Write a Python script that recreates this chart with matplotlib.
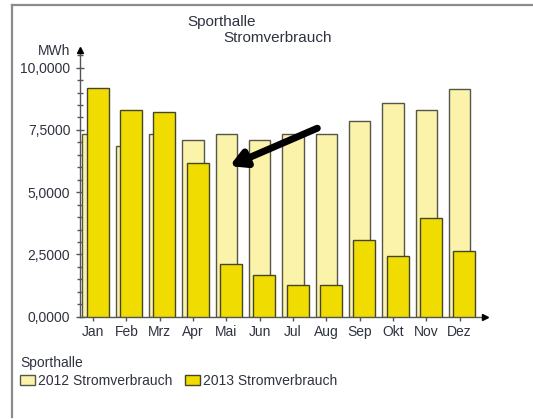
import matplotlib
matplotlib.use("Agg")
import matplotlib.pyplot as plt
from matplotlib.lines import Line2D
from matplotlib.patches import Patch
from matplotlib.ticker import MultipleLocator, FuncFormatter
import numpy as np

months = ["Jan", "Feb", "Mrz", "Apr", "Mai", "Jun", "Jul", "Aug", "Sep", "Okt", "Nov", "Dez"]
verbrauch_2012 = [7.35, 6.87, 7.35, 7.08, 7.34, 7.08, 7.34, 7.34, 7.86, 8.58, 8.29, 9.14]
verbrauch_2013 = [9.17, 8.29, 8.21, 6.18, 2.10, 1.66, 1.28, 1.28, 3.08, 2.45, 3.96, 2.62]
series_labels = ["2012 Stromverbrauch", "2013 Stromverbrauch"]
y_ticks = [0, 2.5, 5.0, 7.5, 10.0]

plt.rcParams['font.family'] = ['Liberation Sans', 'DejaVu Sans']
TXT = '#2f3340'
LIGHT = '#fbf3a9'
DARK = '#f0dc00'
EDGE = '#55554a'

fig = plt.figure(figsize=(5.33, 4.19), dpi=100)
top_px = 50.0
ax = fig.add_axes([80/533, 1-316.7/419, (485-80)/533, (316.7-top_px)/419])

x = np.arange(len(months))
ax.bar(x, verbrauch_2012, width=0.645, color=LIGHT, edgecolor=EDGE, linewidth=1.0, zorder=2)
ax.bar(x + 0.14, verbrauch_2013, width=0.66, color=DARK, edgecolor='#45452a', linewidth=1.0, zorder=3)

ax.set_xlim(-0.39, 11.76)
ax.set_ylim(0, (316.7-top_px)/24.9)
ax.set_xticks(x)
ax.set_xticklabels(months)
ax.set_yticks(y_ticks)
ax.yaxis.set_minor_locator(MultipleLocator(0.5))
ax.yaxis.set_major_formatter(FuncFormatter(lambda v, p: f"{v:.4f}".replace('.', ',')))

for s in ['top', 'right']:
    ax.spines[s].set_visible(False)
for s in ['left', 'bottom']:
    ax.spines[s].set_color('#555555')
    ax.spines[s].set_linewidth(1.0)

ax.tick_params(axis='y', which='major', direction='inout', length=6, width=1, color='#555555',
               labelsize=10, labelcolor=TXT, pad=4)
ax.tick_params(axis='y', which='minor', direction='inout', length=4, width=1, color='#555555')
ax.tick_params(axis='x', which='major', direction='out', length=3, width=1, color='#555555',
               labelsize=10, labelcolor=TXT, pad=3)

# axis arrows
ax.plot(1, 0, marker='>', color='black', markersize=5, transform=ax.transAxes, clip_on=False, zorder=5)
ax.plot(0, 1, marker='^', color='black', markersize=5, transform=ax.transAxes, clip_on=False, zorder=5)

# arrow annotation
ax.annotate('', xy=(4.1, 6.05), xytext=(6.73, 7.57),
            arrowprops=dict(arrowstyle='-|>,head_length=0.9,head_width=0.5', color='black', lw=5,
                            shrinkA=0, shrinkB=0), zorder=6)

fig.text(187/533, 1-22/419, "Sporthalle", fontsize=11, color=TXT, ha='left', va='center')
fig.text(223/533, 1-38/419, "Stromverbrauch", fontsize=11, color=TXT, ha='left', va='center')
fig.text(70/533, 1-51/419, "MWh", fontsize=10, color=TXT, ha='right', va='center')

handles = [Patch(facecolor=LIGHT, edgecolor=EDGE, linewidth=1.0),
           Patch(facecolor=DARK, edgecolor='#45452a', linewidth=1.0)]
leg = fig.legend(handles, series_labels, loc='upper left', bbox_to_anchor=(20/533, 1-356/419),
                 ncol=2, frameon=False, fontsize=10, title="Sporthalle", title_fontsize=10,
                 alignment='left', handlelength=1.05, handleheight=0.75, handletextpad=0.25,
                 columnspacing=0.9, borderpad=0, borderaxespad=0, labelspacing=0.2)
for t in leg.get_texts():
    t.set_color(TXT)
leg.get_title().set_color(TXT)
leg._legend_box.sep = 3

# frame lines (top and left)
fig.add_artist(Line2D([12/533, 1], [1-5/419, 1-5/419], transform=fig.transFigure, color='#8a8a8a', lw=1.6))
fig.add_artist(Line2D([12/533, 12/533], [1-5/419, 1-417/419], transform=fig.transFigure, color='#8a8a8a', lw=1.6))

fig.savefig("out.png", dpi=100)
